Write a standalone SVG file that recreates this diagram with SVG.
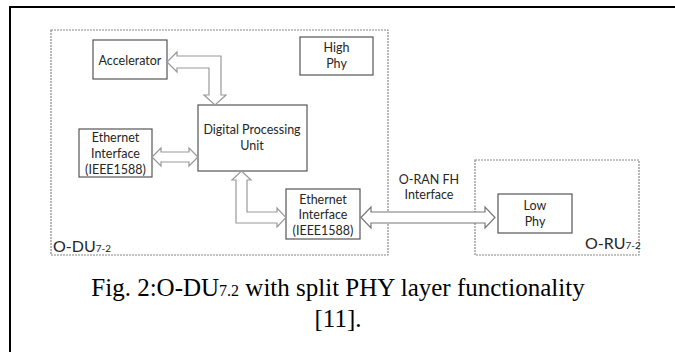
<svg xmlns="http://www.w3.org/2000/svg" width="675" height="352" viewBox="0 0 675 352">
<style>
.box{fill:#fff;stroke:#555;stroke-width:1.2}
.dash{fill:none;stroke:#888;stroke-width:1.2;stroke-dasharray:2 1}
.t{font-family:Lato,"Liberation Sans",sans-serif;font-size:12.5px;fill:#262626;text-anchor:middle}
.lbl{font-family:Lato,"Liberation Sans",sans-serif;font-size:16px;fill:#262626}
.arr{fill:#fff;stroke:#999;stroke-width:1.2;stroke-linejoin:miter}
.cap{font-family:"Liberation Serif","Times New Roman",serif;font-size:25px;fill:#000;text-anchor:middle}
</style>
<rect width="675" height="352" fill="#fff"/>
<path d="M10 352 V7 H675" fill="none" stroke="#000" stroke-width="2"/>
<g id="odu">
<rect class="dash" x="51" y="30" width="337" height="225"/>
<text class="lbl" x="53" y="252">O-DU<tspan font-size="10">7-2</tspan></text>
</g>
<g id="oru">
<rect class="dash" x="475" y="160" width="164" height="95"/>
<text class="lbl" x="585" y="249">O-RU<tspan font-size="10">7-2</tspan></text>
</g>
<g id="accelerator">
<rect class="box" x="93" y="40" width="74" height="39"/>
<text class="t" x="130" y="65">Accelerator</text>
</g>
<g id="highphy">
<rect class="box" x="300" y="37" width="73" height="38"/>
<text class="t" x="336.5" y="52">High</text>
<text class="t" x="336.5" y="68">Phy</text>
</g>
<g id="dpu">
<rect class="box" x="198" y="105" width="109" height="66"/>
<text class="t" x="252" y="134">Digital Processing</text>
<text class="t" x="252" y="150">Unit</text>
</g>
<g id="eth1">
<rect class="box" x="79" y="129" width="73" height="48"/>
<text class="t" x="115.5" y="141.5">Ethernet</text>
<text class="t" x="115.5" y="158">Interface</text>
<text class="t" x="115.5" y="174">(IEEE1588)</text>
</g>
<g id="eth2">
<rect class="box" x="286" y="189" width="74" height="50"/>
<text class="t" x="323" y="203.5">Ethernet</text>
<text class="t" x="323" y="219">Interface</text>
<text class="t" x="323" y="234.5">(IEEE1588)</text>
</g>
<g id="lowphy">
<rect class="box" x="498" y="194" width="74" height="39"/>
<text class="t" x="535" y="210">Low</text>
<text class="t" x="535" y="225.5">Phy</text>
</g>
<g id="connectors">
<polygon class="arr" points="167,62 177,52 177,56 221,56 221,95 226,95 215,105 204,95 209,95 209,68 177,68 177,72"/>
<polygon class="arr" points="152,157 161,148 161,152 189,152 189,148 198,157 189,166 189,162 161,162 161,166"/>
<polygon class="arr" points="241.5,171 251,180 247,180 247,212 277,212 277,208 286,217.5 277,227 277,223 236,223 236,180 232,180"/>
<polygon class="arr" style="stroke:#777" points="361,217.5 371,207 371,212 485,212 485,207 495,217.5 485,228 485,223 371,223 371,228"/>
<text class="t" x="429" y="184">O-RAN FH</text>
<text class="t" x="429" y="198.5">Interface</text>
</g>
<g id="caption">
<text class="cap" x="338" y="296">Fig. 2:O-DU<tspan font-size="16">7.2</tspan> with split PHY layer functionality</text>
<text class="cap" x="338" y="327">[11].</text>
</g>
</svg>
